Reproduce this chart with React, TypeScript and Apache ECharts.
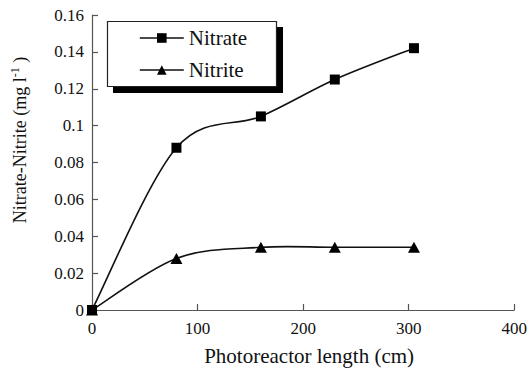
import React, { useEffect, useRef } from "react";
import * as echarts from "echarts";

// Photoreactor length (cm) at each sampling point
const lengths = [0, 80, 160, 230, 305];
// Concentrations (mg l-1)
const nitrate = [0, 0.088, 0.105, 0.125, 0.142];
const nitrite = [0, 0.028, 0.034, 0.034, 0.034];

const FONT = "Liberation Serif";
const INK = "#111";

// Catmull-Rom style cubic path through the given pixel points (tension 1/6)
function smoothPath(pts: number[][]): string {
  let d = `M${pts[0][0]},${pts[0][1]}`;
  for (let i = 0; i < pts.length - 1; i++) {
    const p0 = pts[Math.max(0, i - 1)];
    const p1 = pts[i];
    const p2 = pts[i + 1];
    const p3 = pts[Math.min(pts.length - 1, i + 2)];
    const c1x = p1[0] + (p2[0] - p0[0]) / 6;
    const c1y = p1[1] + (p2[1] - p0[1]) / 6;
    const c2x = p2[0] - (p3[0] - p1[0]) / 6;
    const c2y = p2[1] - (p3[1] - p1[1]) / 6;
    d += ` C${c1x},${c1y} ${c2x},${c2y} ${p2[0]},${p2[1]}`;
  }
  return d;
}

export default function App() {
  const ref = useRef<HTMLDivElement>(null);

  useEffect(() => {
    if (!ref.current) return;
    const chart = echarts.init(ref.current, undefined, { renderer: "svg" });
    const pairs = (ys: number[]) => lengths.map((x, i) => [x, ys[i]]);

    const curve = (ys: number[], z: number) => ({
      type: "custom",
      coordinateSystem: "cartesian2d",
      data: pairs(ys),
      silent: true,
      z,
      renderItem: (params: any, api: any) => {
        if (params.dataIndex !== 0) return null;
        const pts = lengths.map((x, i) => api.coord([x, ys[i]]));
        return {
          type: "path",
          shape: { pathData: smoothPath(pts) },
          style: { fill: "none", stroke: INK, lineWidth: 1.6 },
        };
      },
    });

    const legendLine = { opacity: 1, color: INK, width: 1.6 };

    chart.setOption({
      animation: false,
      backgroundColor: "#fff",
      textStyle: { fontFamily: FONT },
      grid: { left: 92, right: 12, top: 15, bottom: 55, containLabel: false },
      xAxis: {
        type: "value",
        min: 0,
        max: 400,
        interval: 100,
        name: "Photoreactor length (cm)",
        nameLocation: "middle",
        nameGap: 35,
        nameTextStyle: { fontFamily: FONT, fontSize: 21, color: INK, padding: [0, 0, 0, 12] },
        axisLine: { lineStyle: { color: "#555", width: 1.2 } },
        axisTick: { inside: true, length: 6, lineStyle: { color: "#555", width: 1.2 } },
        axisLabel: { fontFamily: FONT, fontSize: 17, color: INK, margin: 10 },
        splitLine: { show: false },
      },
      yAxis: {
        type: "value",
        min: 0,
        max: 0.16,
        interval: 0.02,
        axisLine: { show: true, lineStyle: { color: "#555", width: 1.2 } },
        axisTick: { show: true, inside: true, length: 6, lineStyle: { color: "#555", width: 1.2 } },
        axisLabel: { fontFamily: FONT, fontSize: 17, color: INK, margin: 8 },
        splitLine: { show: false },
      },
      legend: {
        orient: "vertical",
        left: 139,
        top: 27,
        padding: 0,
        z: 10,
        itemWidth: 44,
        itemHeight: 12,
        itemGap: 10,
        textStyle: { fontFamily: FONT, fontSize: 21, color: INK, lineHeight: 22 },
        data: [
          { name: "Nitrate", lineStyle: legendLine },
          { name: "Nitrite", lineStyle: legendLine },
        ],
      },
      graphic: [
        { type: "rect", shape: { x: 113, y: 27, width: 170, height: 66 }, style: { fill: "#000" }, z: 1 },
        {
          type: "rect",
          shape: { x: 107.5, y: 21.5, width: 169, height: 65 },
          style: { fill: "#fff", stroke: "#222", lineWidth: 1.2 },
          z: 2,
        },
        {
          type: "text",
          x: 20,
          y: 140,
          rotation: Math.PI / 2,
          z: 10,
          style: {
            text: "Nitrate-Nitrite (mg l{sup|-1} )",
            fontFamily: FONT,
            fontSize: 18,
            fill: INK,
            align: "center",
            verticalAlign: "middle",
            lineHeight: 22,
            rich: {
              sup: { fontFamily: FONT, fontSize: 12, fill: INK, verticalAlign: "top", lineHeight: 14 },
            },
          },
        },
      ],
      series: [
        curve(nitrate, 3),
        curve(nitrite, 2),
        {
          name: "Nitrate",
          type: "line",
          data: pairs(nitrate),
          symbol: "rect",
          symbolSize: 10,
          showAllSymbol: true,
          lineStyle: { opacity: 0 },
          itemStyle: { color: "#000", borderWidth: 0 },
          z: 5,
        },
        {
          name: "Nitrite",
          type: "line",
          data: pairs(nitrite),
          symbol: "triangle",
          symbolSize: [12, 11],
          lineStyle: { opacity: 0 },
          itemStyle: { color: "#000", borderWidth: 0 },
          z: 4,
        },
      ],
    });

    return () => chart.dispose();
  }, []);

  return <div ref={ref} style={{ width: 530, height: 371, position: "absolute", left: 0, top: 0 }} />;
}
